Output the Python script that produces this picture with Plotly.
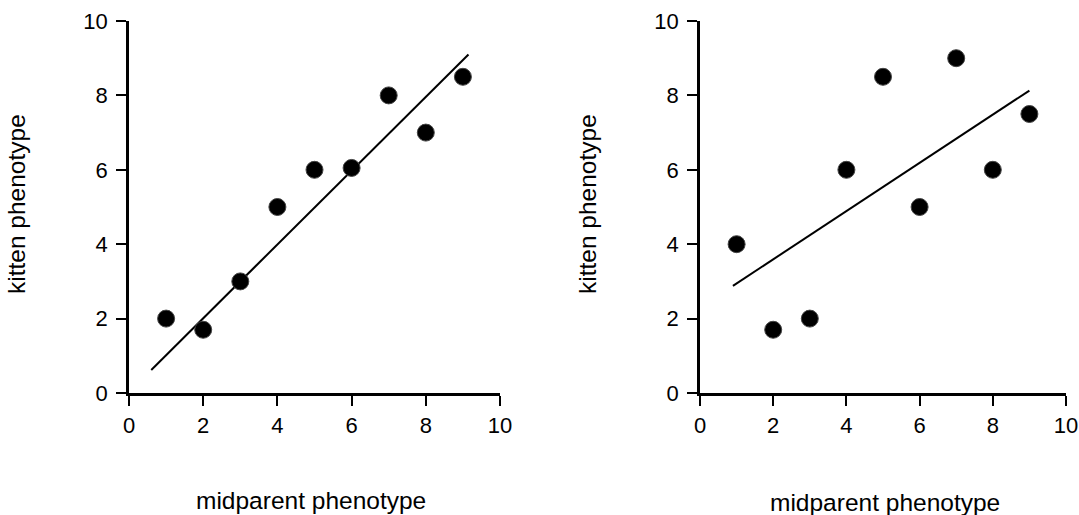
import plotly.graph_objects as go

# Left panel data
left_x = [1, 2, 3, 4, 5, 6, 7, 8, 9]
left_y = [2.0, 1.7, 3.0, 5.0, 6.0, 6.05, 8.0, 7.0, 8.5]
left_line_x = [0.6, 9.15]
left_line_y = [0.62, 9.1]

# Right panel data
right_x = [1, 2, 3, 4, 5, 6, 7, 8, 9]
right_y = [4.0, 1.7, 2.0, 6.0, 8.5, 5.0, 9.0, 6.0, 7.5]
right_line_x = [0.9, 9.0]
right_line_y = [2.88, 8.13]

tick_vals = [0, 2, 4, 6, 8, 10]
x_title = "midparent phenotype"
y_title = "kitten phenotype"

FONT = "Liberation Sans, Arial, sans-serif"

fig = go.Figure()

def add_panel(xs, ys, lx, ly, xa, ya):
    fig.add_trace(go.Scatter(x=lx, y=ly, mode="lines", line=dict(color="black", width=2),
                             xaxis=xa, yaxis=ya, showlegend=False, hoverinfo="skip"))
    fig.add_trace(go.Scatter(x=xs, y=ys, mode="markers",
                             marker=dict(color="black", size=17, line=dict(color="#444", width=1)),
                             xaxis=xa, yaxis=ya, showlegend=False, cliponaxis=False))

add_panel(left_x, left_y, left_line_x, left_line_y, "x", "y")
add_panel(right_x, right_y, right_line_x, right_line_y, "x2", "y2")

W, H = 1079, 515

def px(x):
    return x / W

def py(y):
    return (H - y) / H

axis_common = dict(range=[0, 10], tickvals=tick_vals, showgrid=False, zeroline=False,
                   showline=True, linecolor="black", linewidth=2.5, ticks="outside",
                   ticklen=10, tickwidth=2, tickcolor="black", automargin=False,
                   tickfont=dict(family=FONT, size=22, color="black"))
x_common = dict(axis_common, ticklabelstandoff=1)
y_common = dict(axis_common, ticklabelstandoff=4)

ydom = [py(393), py(21)]
fig.update_layout(
    width=W, height=H, margin=dict(l=0, r=0, t=0, b=0),
    plot_bgcolor="white", paper_bgcolor="white",
    xaxis=dict(domain=[px(129), px(500)], anchor="y", **x_common),
    yaxis=dict(domain=ydom, anchor="x", **y_common),
    xaxis2=dict(domain=[px(700), px(1066)], anchor="y2", **x_common),
    yaxis2=dict(domain=ydom, anchor="x2", **y_common),
    font=dict(family=FONT, color="black"),
)

ann_font = dict(family=FONT, size=24.5, color="black")
annotations = [
    dict(text=x_title, x=px(310.5), y=py(500), xref="paper", yref="paper",
         showarrow=False, font=ann_font, xanchor="center", yanchor="middle", borderpad=0),
    dict(text=x_title, x=px(885), y=py(502), xref="paper", yref="paper",
         showarrow=False, font=ann_font, xanchor="center", yanchor="middle", borderpad=0),
    dict(text=y_title, x=px(17), y=py(204), xref="paper", yref="paper",
         showarrow=False, font=ann_font, textangle=-90, xanchor="center", yanchor="middle", borderpad=0),
    dict(text=y_title, x=px(588), y=py(204), xref="paper", yref="paper",
         showarrow=False, font=ann_font, textangle=-90, xanchor="center", yanchor="middle", borderpad=0),
]
fig.update_layout(annotations=annotations)

fig.write_html("out.html", config={"displayModeBar": False},
               post_script="document.body.style.margin='0';")
